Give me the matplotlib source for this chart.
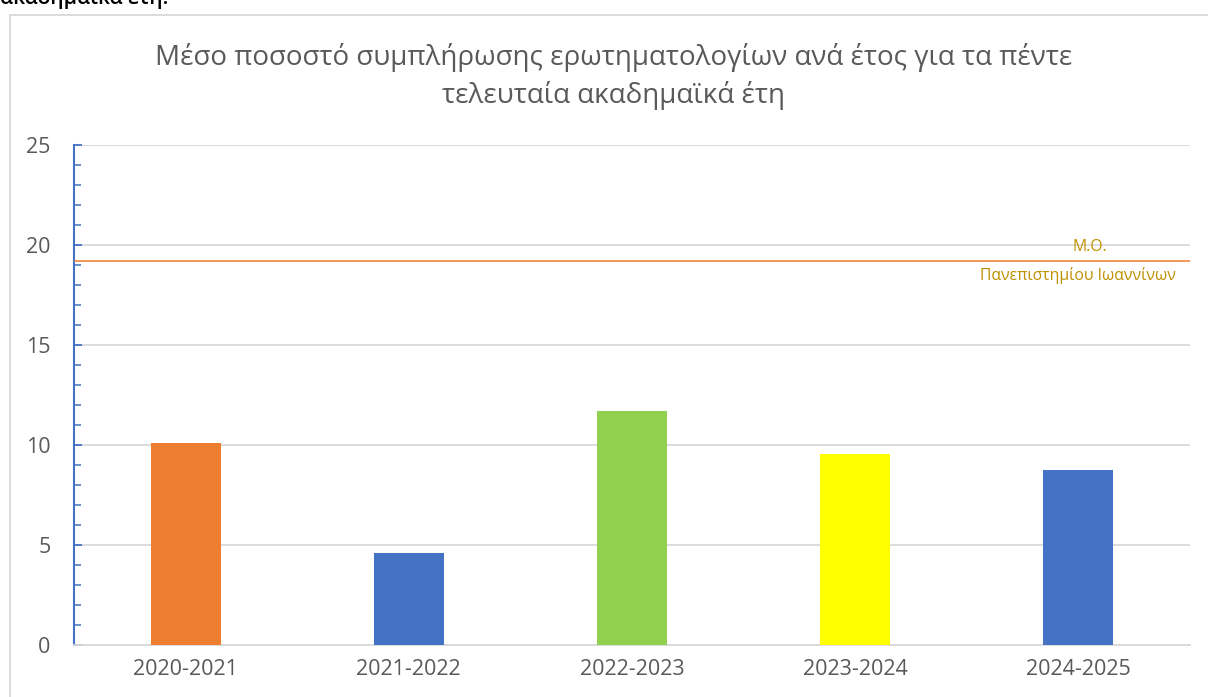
import matplotlib
matplotlib.use("Agg")
import matplotlib.pyplot as plt
from matplotlib.patches import Rectangle
from matplotlib.ticker import MultipleLocator

plt.rcParams['font.family'] = ['Open Sans', 'DejaVu Sans']

# δεδομένα
years = ['2020-2021', '2021-2022', '2022-2023', '2023-2024', '2024-2025']
rates = [10.1, 4.6, 11.7, 9.55, 8.75]
bar_colors = ['#ED7D31', '#4472C4', '#92D050', '#FFFF00', '#4472C4']
uoi_mean = 19.2

title = ('Μέσο ποσοστό συμπλήρωσης ερωτηματολογίων ανά έτος για τα πέντε\n'
         'τελευταία ακαδημαϊκά έτη')

fig = plt.figure(figsize=(12.08, 6.97), dpi=100)
W, H = 1208, 697

# κομμένο κείμενο από πάνω (συνέχεια από το κείμενο της σελίδας)
fig.text(0.0, 1 - 4 / H, 'ακαδημαϊκά έτη.', fontsize=15, color='black',
         fontweight='semibold', ha='left', va='baseline')

# πλαίσιο γραφήματος
fig.patches.append(Rectangle((9.5 / W, -0.05), 1.05, 1 - 15 / H + 0.05,
                             transform=fig.transFigure, fill=False,
                             edgecolor='#D9D9D9', linewidth=1.3))

ax = fig.add_axes([74 / W, 1 - 645 / H, (1190 - 74) / W, 500 / H])
x = range(len(years))
ax.bar(x, rates, width=0.314, color=bar_colors, zorder=3)
ax.axhline(uoi_mean, color='#ED7D31', linewidth=1.1, zorder=4)

ax.set_xlim(-0.5, 4.5)
ax.set_ylim(0, 25)
ax.yaxis.set_major_locator(MultipleLocator(5))
ax.yaxis.set_minor_locator(MultipleLocator(1))
ax.grid(axis='y', color='#D9D9D9', linewidth=1.3, zorder=0)
ax.set_axisbelow(True)

for s in ['top', 'right']:
    ax.spines[s].set_visible(False)
ax.spines['bottom'].set_color('#D9D9D9')
ax.spines['bottom'].set_linewidth(1.3)
ax.spines['left'].set_color('#4472C4')
ax.spines['left'].set_linewidth(1.5)

ax.set_xticks(list(x))
ax.set_xticklabels(years)
ax.tick_params(axis='x', length=0, pad=10, labelsize=15.5, labelcolor='#595959')
ax.tick_params(axis='y', which='major', direction='in', length=6, width=1.3,
               color='#4472C4', labelsize=15.5, labelcolor='#595959', pad=17)
ax.tick_params(axis='y', which='minor', direction='in', length=5, width=1.1,
               color='#4472C4')

ax.text(4.05, 19.9, 'Μ.Ο.', color='#BF9000', fontsize=11.3, ha='center',
        va='center')
ax.text(4.0, 18.5, 'Πανεπιστημίου Ιωαννίνων', color='#BF9000', fontsize=11.3,
        ha='center', va='center')

fig.text(614 / W, 1 - 76.5 / H, title, fontsize=20, color='#595959',
         ha='center', va='center', linespacing=1.4)

fig.savefig('out.png', dpi=100)
